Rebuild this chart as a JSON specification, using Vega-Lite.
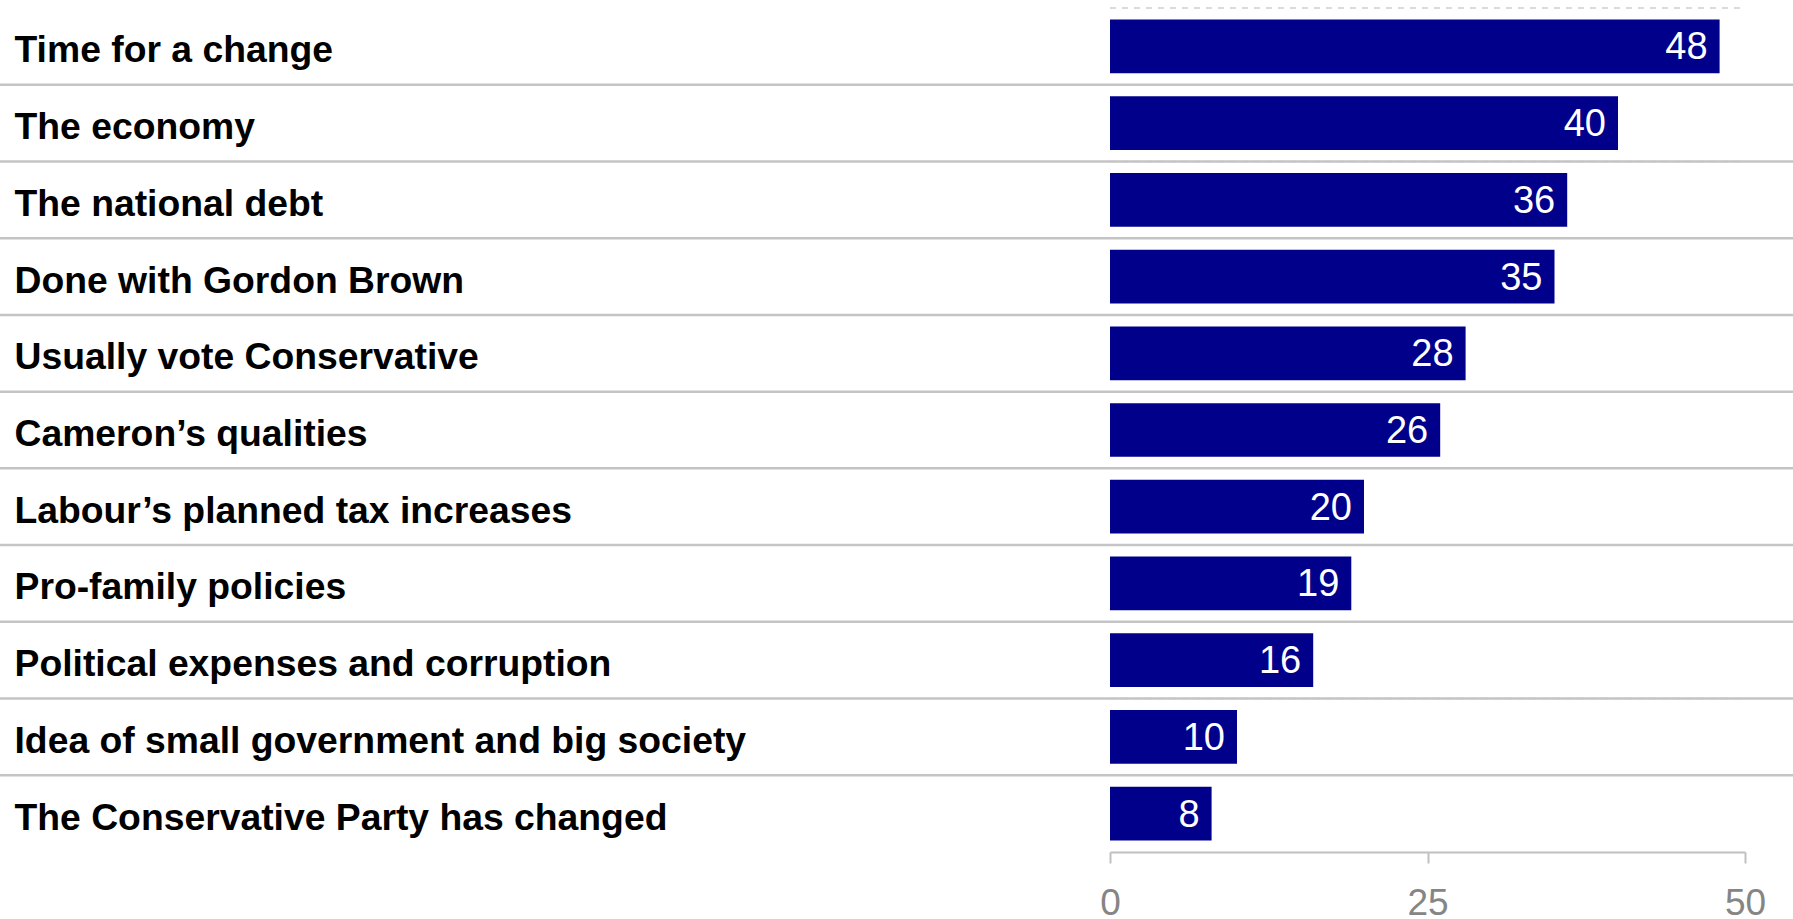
{
  "$schema": "https://vega.github.io/schema/vega-lite/v6.json",
  "autosize": "none",
  "padding": {"left": 1110, "top": 8, "right": 48, "bottom": 67},
  "width": 635,
  "height": 844,
  "background": "white",
  "config": {
    "view": {"stroke": null},
    "font": "Liberation Sans",
    "axisY": {"domain": false, "ticks": false, "tickSize": 0, "grid": false, "labelAlign": "left", "labelPadding": 1096, "labelLimit": 1200, "labelFont": "Liberation Sans", "labelFontSize": 37.3, "labelFontWeight": "bold", "labelColor": "#000000", "labelBaseline": "middle", "labelOffset": 5},
    "axisX": {"grid": false, "domainColor": "#c0c0c0", "domainWidth": 2, "tickColor": "#c0c0c0", "tickWidth": 2, "tickSize": 11, "labelColor": "#858585", "labelFont": "Liberation Sans", "labelFontSize": 37, "labelPadding": 22, "labelFlush": false}
  },
  "data": {"values": [
    {"label": "Time for a change", "value": 48},
    {"label": "The economy", "value": 40},
    {"label": "The national debt", "value": 36},
    {"label": "Done with Gordon Brown", "value": 35},
    {"label": "Usually vote Conservative", "value": 28},
    {"label": "Cameron’s qualities", "value": 26},
    {"label": "Labour’s planned tax increases", "value": 20},
    {"label": "Pro-family policies", "value": 19},
    {"label": "Political expenses and corruption", "value": 16},
    {"label": "Idea of small government and big society", "value": 10},
    {"label": "The Conservative Party has changed", "value": 8}
  ]},
  "layer": [
    {
      "mark": {"type": "rule", "strokeDash": [6, 6], "color": "#d0d0d0", "strokeWidth": 1.5},
      "encoding": {
        "y": {"field": "label", "type": "nominal", "sort": null, "bandPosition": 0, "title": null, "scale": {"paddingInner": 0, "paddingOuter": 0}},
        "x": {"datum": 0, "type": "quantitative", "scale": {"domain": [0, 50]}, "axis": {"values": [0, 25, 50], "title": null}},
        "x2": {"datum": 50}
      }
    },
    {
      "transform": [{"filter": "datum.label != 'Time for a change'"}],
      "mark": {"type": "rule", "color": "#c4c4c4", "strokeWidth": 2.5},
      "encoding": {
        "y": {"field": "label", "type": "nominal", "sort": null, "bandPosition": 0, "title": null},
        "x": {"datum": -88, "type": "quantitative"},
        "x2": {"datum": 54}
      }
    },
    {
      "mark": {"type": "bar", "height": {"band": 0.7}, "color": "#00008B"},
      "encoding": {
        "y": {"field": "label", "type": "nominal", "sort": null, "title": null},
        "x": {"field": "value", "type": "quantitative", "title": null}
      }
    },
    {
      "mark": {"type": "text", "align": "right", "baseline": "middle", "dx": -12, "dy": 2, "color": "white", "fontSize": 38, "font": "Liberation Sans"},
      "encoding": {
        "y": {"field": "label", "type": "nominal", "sort": null, "title": null},
        "x": {"field": "value", "type": "quantitative", "title": null},
        "text": {"field": "value", "type": "quantitative"}
      }
    }
  ]
}
